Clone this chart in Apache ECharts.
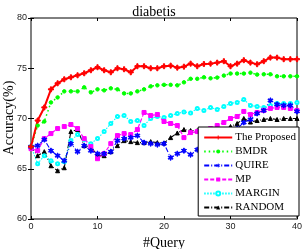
<!DOCTYPE html>
<html><head><meta charset="utf-8">
<script src="https://cdn.jsdelivr.net/npm/echarts@6/dist/echarts.min.js"></script>
<style>html,body{margin:0;padding:0;background:#fff}#c{width:308px;height:249px}</style>
</head><body><div id="c"></div>
<script>
var queries = [];
for (var q = 0; q <= 40; q++) queries.push(q);
var xTicks = [0, 10, 20, 30, 40];
var yTicks = [60, 65, 70, 75, 80];
var seriesNames = ['The Proposed', 'BMDR', 'QUIRE', 'MP', 'MARGIN', 'RANDOM'];
var proposed = [67.2, 69.8, 71.1, 72.9, 73.5, 73.9, 74.1, 74.3, 74.5, 74.8, 75.1, 74.8, 74.6, 75.0, 74.9, 74.6, 75.2, 75.2, 75.0, 75.0, 75.2, 75.26, 75.06, 75.16, 75.46, 75.2, 75.42, 75.46, 75.56, 75.7, 75.2, 75.46, 75.8, 75.56, 75.4, 75.7, 76.06, 76.06, 75.9, 75.9, 75.9];
var bmdr = [67.2, 69.3, 69.7, 71.6, 72.1, 72.7, 72.7, 72.7, 73.1, 72.6, 72.9, 72.8, 73.0, 72.9, 72.5, 72.5, 72.7, 72.9, 73.2, 73.3, 73.35, 73.35, 73.3, 73.6, 73.95, 73.95, 74.1, 74.0, 74.07, 74.27, 74.47, 74.47, 74.47, 74.56, 74.37, 74.4, 74.4, 74.2, 74.2, 74.2, 74.2];
var quire = [67.2, 67.3, 67.9, 66.8, 66.3, 65.8, 67.5, 66.7, 67.3, 66.8, 66.5, 66.5, 66.7, 67.8, 68.0, 68.1, 68.3, 67.6, 67.5, 67.4, 67.5, 66.1, 66.5, 66.8, 66.4, 66.9, 67.0, 67.5, 68.0, 68.3, 68.6, 69.0, 69.6, 69.9, 70.5, 70.8, 71.8, 71.4, 71.3, 71.3, 70.7];
var mp = [67.0, 66.8, 68.0, 68.5, 69.0, 69.2, 69.4, 69.0, 68.0, 67.2, 66.0, 66.5, 67.5, 68.3, 68.5, 68.4, 68.9, 70.6, 70.3, 70.4, 69.7, 69.5, 69.3, 68.1, 68.6, 68.7, 68.9, 69.0, 69.3, 69.6, 70.0, 70.2, 70.7, 70.4, 70.6, 70.8, 71.0, 71.1, 71.1, 71.0, 70.8];
var margin = [67.2, 65.5, 66.3, 65.8, 65.5, 65.7, 67.8, 68.4, 67.9, 67.5, 68.0, 68.7, 69.5, 70.2, 70.3, 69.7, 69.8, 69.3, 70.0, 70.2, 70.1, 70.3, 70.5, 70.65, 70.55, 71.0, 70.8, 71.1, 70.9, 71.2, 71.5, 71.6, 71.9, 71.3, 71.2, 71.1, 71.3, 71.5, 71.5, 71.5, 71.6];
var random = [67.2, 66.3, 66.7, 65.3, 64.8, 65.1, 68.7, 68.9, 67.3, 67.2, 66.3, 66.3, 66.7, 67.3, 67.8, 67.7, 67.6, 67.6, 67.7, 67.6, 67.57, 68.1, 68.56, 68.9, 68.8, 68.8, 68.6, 68.4, 68.6, 68.9, 69.2, 69.5, 70.0, 69.65, 69.8, 69.9, 70.0, 69.9, 70.0, 70.0, 70.0];
var yName = 'Accuracy(%)';
var xName = '#Query';

function pairs(arr) { return arr.map(function (v, i) { return [queries[i], v]; }); }

var plus = 'path://M-1,-4h2v3h3v2h-3v3h-2v-3h-3v-2h3z';
var star = 'path://M-0.6,-4h1.2v2.9l2.5,-1.5l0.6,1l-2.5,1.6l2.5,1.6l-0.6,1l-2.5,-1.5v2.9h-1.2v-2.9l-2.5,1.5l-0.6,-1l2.5,-1.6l-2.5,-1.6l0.6,-1l2.5,1.5z';
var serif = '"Liberation Serif", "DejaVu Serif", serif';
var sans = '"Liberation Sans", Arial, sans-serif';

function mk(name, data, color, symbol, size, lw, type) {
  return {
    name: name, type: 'line', data: pairs(data), symbol: symbol, symbolSize: size,
    showSymbol: true, animation: false,
    itemStyle: { color: color, borderColor: color },
    lineStyle: { color: color, width: lw, type: type }
  };
}

var series = [
  mk(seriesNames[5], random, '#000000', 'triangle', 4, 1.1, [5, 2, 1, 2]),
  mk(seriesNames[4], margin, '#00ffff', 'emptyCircle', 3, 1.1, [1.5, 1.5]),
  mk(seriesNames[3], mp, '#ff00ff', 'rect', 4, 1.2, [4, 2]),
  mk(seriesNames[2], quire, '#0000ff', star, 5, 1.1, [5, 2, 1, 2]),
  mk(seriesNames[1], bmdr, '#00ff00', 'circle', 3.5, 1.5, [1.5, 3]),
  mk(seriesNames[0], proposed, '#ff0000', plus, 5, 2, 'solid')
];

var chart = echarts.init(document.getElementById('c'), null, { renderer: 'canvas' });
chart.setOption({
  animation: false,
  backgroundColor: '#ffffff',
  title: {
    text: 'diabetis', left: 'center', top: 0,
    textStyle: { fontFamily: serif, fontSize: 14, fontWeight: 'normal', color: '#000' }
  },
  graphic: [{
    type: 'text', x: 9, y: 118, rotation: Math.PI / 2, silent: true,
    style: { text: yName, fontFamily: serif, fontSize: 14, fill: '#000', align: 'center', verticalAlign: 'middle' }
  }],
  legend: {
    data: seriesNames, orient: 'vertical', right: 9, top: 127,
    backgroundColor: '#ffffff', borderColor: '#000', borderWidth: 1, borderRadius: 0,
    padding: [5, 3, 3, 5], itemGap: 3, itemWidth: 28, itemHeight: 5,
    textStyle: { fontFamily: serif, fontSize: 11, color: '#000', padding: [0, 0, 0, -2] }
  },
  grid: { left: 31, right: 11, top: 18, bottom: 30, show: true, borderColor: '#000', borderWidth: 1,
    containLabel: false, outerBoundsMode: 'none' },
  xAxis: [{
    type: 'value', min: 0, max: 40, interval: 10, position: 'bottom',
    name: xName, nameLocation: 'middle', nameGap: 16,
    nameTextStyle: { fontFamily: serif, fontSize: 14, color: '#000' },
    axisLine: { show: true, lineStyle: { color: '#808080', width: 2 } },
    axisTick: { show: true, inside: true, length: 3, lineStyle: { color: '#000' } },
    axisLabel: { fontFamily: sans, fontSize: 9, color: '#222', margin: 3,
      formatter: function (v) { return xTicks.indexOf(v) >= 0 ? String(v) : ''; } },
    splitLine: { show: false }
  }, {
    type: 'value', min: 0, max: 40, interval: 10, position: 'top',
    axisLine: { show: false }, axisLabel: { show: false },
    axisTick: { show: true, inside: true, length: 3, lineStyle: { color: '#000' } },
    splitLine: { show: false }
  }],
  yAxis: [{
    type: 'value', min: 60, max: 80, interval: 5, position: 'left',
    axisLine: { show: true, lineStyle: { color: '#808080', width: 2 } },
    axisTick: { show: true, inside: true, length: 3, lineStyle: { color: '#000' } },
    axisLabel: { fontFamily: sans, fontSize: 9, color: '#222', margin: 4,
      formatter: function (v) { return yTicks.indexOf(v) >= 0 ? String(v) : ''; } },
    splitLine: { show: false }
  }, {
    type: 'value', min: 60, max: 80, interval: 5, position: 'right',
    axisLine: { show: false }, axisLabel: { show: false },
    axisTick: { show: true, inside: true, length: 3, lineStyle: { color: '#000' } },
    splitLine: { show: false }
  }],
  series: series
});
</script></body></html>
